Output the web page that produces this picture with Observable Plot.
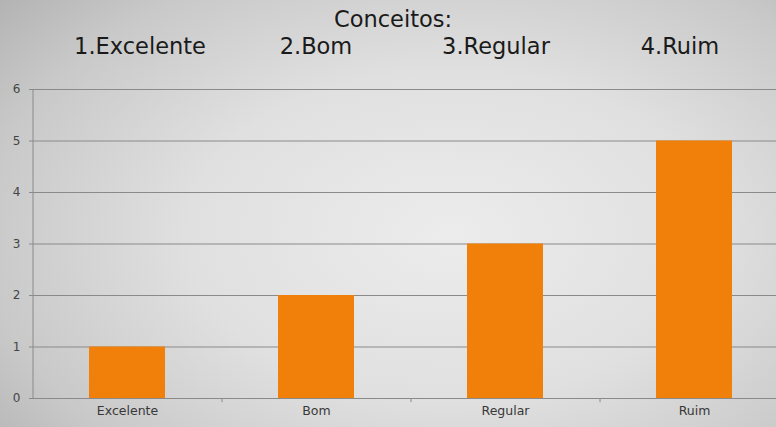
<!DOCTYPE html>
<html>
<head>
<meta charset="utf-8">
<script src="https://cdn.jsdelivr.net/npm/d3@7"></script>
<script src="https://cdn.jsdelivr.net/npm/@observablehq/plot@0.6"></script>
<style>
  html, body { margin: 0; padding: 0; }
  #wrap {
    position: relative; width: 776px; height: 427px; overflow: hidden;
    background: radial-gradient(ellipse 75% 85% at 58% 55%, #ececec 0%, #e0e0e0 45%, #c9c9c9 80%, #b4b4b4 100%);
    font-family: "DejaVu Sans", Verdana, sans-serif;
  }
  #head { position: relative; height: 75px; color: #1a1a1a; }
  #head .t { position: absolute; font-size: 22.5px; white-space: nowrap; transform: translateX(-50%); }
  #chart svg { background: transparent !important; display: block; }
</style>
</head>
<body>
<div id="wrap">
  <div id="head"></div>
  <div id="chart"></div>
</div>
<script>
const titleText = "Conceitos:";
const legendItems = ["1.Excelente", "2.Bom", "3.Regular", "4.Ruim"];
const legendCenters = [140, 316, 496, 680];
const categories = ["Excelente", "Bom", "Regular", "Ruim"];
const values = [1, 2, 3, 5];
const yTicks = [0, 1, 2, 3, 4, 5, 6];

const head = document.getElementById("head");
const t = document.createElement("div");
t.className = "t"; t.textContent = titleText;
t.style.left = "393px"; t.style.top = "6px";
head.appendChild(t);
legendItems.forEach((s, i) => {
  const e = document.createElement("div");
  e.className = "t"; e.textContent = s;
  e.style.left = legendCenters[i] + "px"; e.style.top = "33px";
  head.appendChild(e);
});

const data = categories.map((c, i) => ({category: c, value: values[i]}));

const chart = Plot.plot({
  width: 776,
  height: 352,
  marginTop: 14,
  marginBottom: 29,
  marginLeft: 32,
  marginRight: 0,
  style: {background: "transparent", fontFamily: "DejaVu Sans, Verdana, sans-serif", fontSize: "12px", color: "#444"},
  x: {domain: categories, range: [32, 788], paddingInner: 0.6, paddingOuter: 0.3, align: 0.5},
  y: {domain: [0, 6]},
  marks: [
    Plot.ruleY(yTicks, {stroke: "#8a8a8a", strokeWidth: 1}),
    Plot.barY(data, {x: "category", y: "value", fill: "#F0800A"}),
    Plot.ruleX(categories.slice(0, -1), {x: d => d, dx: 94.5, y1: 0, y2: -0.08, stroke: "#8a8a8a"}),
    Plot.ruleX([0], {x: () => categories[0], dx: -94.5, y1: 0, y2: 6, stroke: "#8a8a8a"}),
    Plot.axisY(yTicks, {tickSize: 3, tickPadding: 9, tickFormat: d3.format("d"), stroke: "#8a8a8a", fill: "#444", fontSize: 12, label: null}),
    Plot.axisX({tickSize: 0, tickPadding: 8, fill: "#383838", fontSize: 12.5, label: null})
  ]
});
document.getElementById("chart").appendChild(chart);
</script>
</body>
</html>
